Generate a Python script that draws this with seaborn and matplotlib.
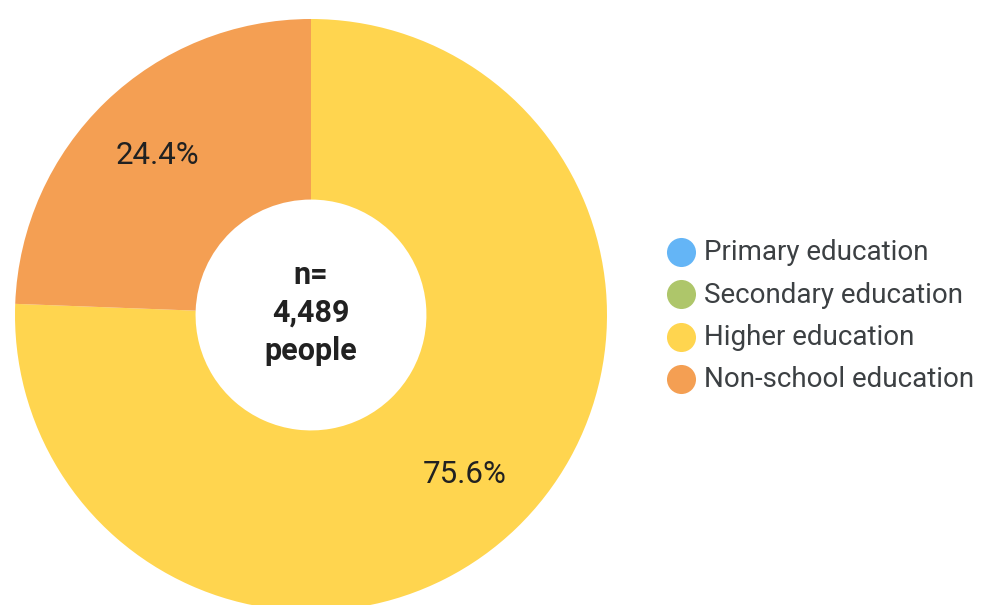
import matplotlib
matplotlib.use("Agg")
import matplotlib.pyplot as plt
import seaborn as sns

# Education level breakdown of survey respondents
categories = ["Primary education", "Secondary education", "Higher education", "Non-school education"]
shares = [0.0, 0.0, 75.6, 24.4]
colors = ["#64B5F6", "#AEC66A", "#FFD54F", "#F49F53"]
total_label = "n=\n4,489\npeople"

sns.set_theme(style="white")
plt.rcParams["font.family"] = ["Roboto", "DejaVu Sans"]

W, H = 981, 605
fig = plt.figure(figsize=(W / 100, H / 100), dpi=100)
ax = fig.add_axes([0, 0, 1, 1])

# only non-empty categories get a wedge
vals = [v for v in shares if v > 0]
cols = [c for v, c in zip(shares, colors) if v > 0]

cx, cy, R = 311, H - 315, 296
wedges, _, autotexts = ax.pie(
    vals, colors=cols, startangle=90, counterclock=False,
    center=(cx, cy), radius=R, autopct="%.1f%%", pctdistance=0.75,
    wedgeprops=dict(width=R * 0.61, linewidth=0),
    textprops=dict(fontsize=22.5, color="#212121"),
    frame=True,
)
ax.set_xlim(0, W)
ax.set_ylim(0, H)
ax.set_aspect("equal")
ax.axis("off")

ax.text(cx, cy + 2, total_label, ha="center", va="center", fontsize=22,
        fontweight="bold", color="#212121", linespacing=1.33)

# legend: coloured dots with labels
ly0 = H - 252
for i, (name, col) in enumerate(zip(categories, colors)):
    y = ly0 - i * 42.3
    ax.scatter([681], [y], s=29 ** 2 * 0.52, color=col, linewidths=0)
    ax.text(704, y - 1, name, ha="left", va="center", fontsize=20, color="#3C4043")

fig.savefig("out.png", dpi=100)
